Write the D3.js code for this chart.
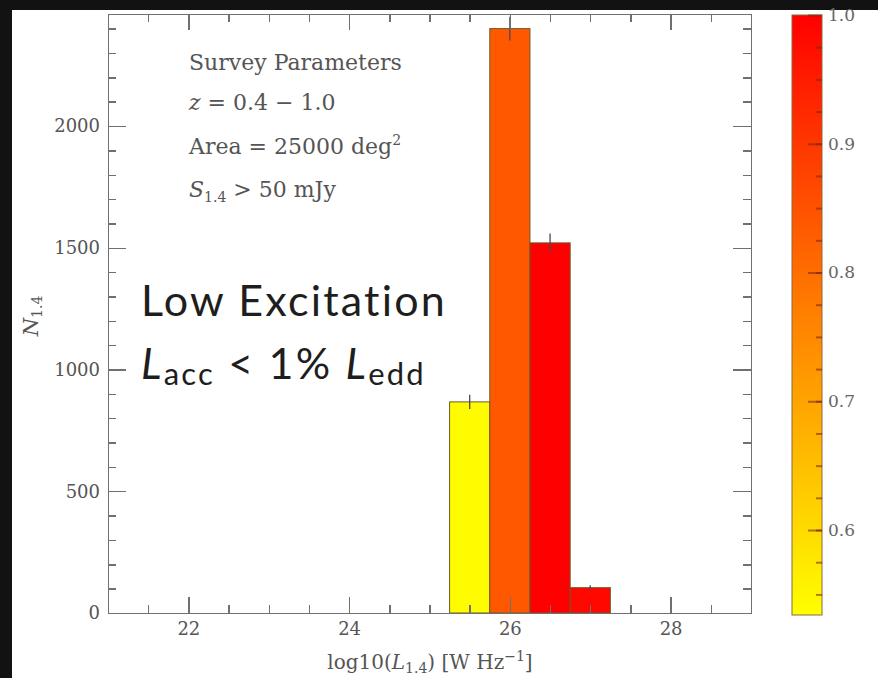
<!DOCTYPE html>
<html lang="en">
<head>
	<meta charset="utf-8">
	<title>Low excitation radio luminosity histogram</title>
	<script src="https://cdn.jsdelivr.net/npm/d3@7"></script>
	<style>
		body { margin: 0; background: #111; }
		.axis path, .axis line { stroke: #707070; stroke-width: 1.4; shape-rendering: crispEdges; }
		.axis text { font-family: "DejaVu Serif", serif; font-size: 18px; fill: #555; }
		.cbar line { stroke: #7a2a10; stroke-opacity: 0.6; stroke-width: 2; }
		.cbar path { stroke: none; }
		.cbar text { font-family: "DejaVu Serif", serif; font-size: 17px; fill: #666; }
		.note { font-family: "DejaVu Serif", serif; font-size: 21px; fill: #555; }
		.big { font-family: Lato, "Open Sans", sans-serif; font-size: 43px; letter-spacing: 2.2px; fill: #1e1e1e; }
	</style>
</head>
<body>
	<script>
		// canvas
		var w = 878, h = 678;

		// histogram data (bin edges in log10 L, counts, poisson errors, colour value)
		var binStart = [25.25, 25.75, 26.25, 26.75];
		var binWidth = 0.5;
		var counts = [867, 2400, 1520, 104];
		var errors = [29, 49, 39, 10];
		var fracValue = [0.54, 0.84, 1.0, 0.985];

		// tick values
		var xMajor = [22, 24, 26, 28];
		var yMajor = [0, 500, 1000, 1500, 2000];
		var cbMajor = [0.6, 0.7, 0.8, 0.9, 1.0];

		// plot box
		var padL = 108, padR = 751, padT = 14, padB = 613;
		var cbLeft = 792, cbRight = 822, cbTop = 15, cbBottom = 615;

		var xScale = d3.scaleLinear().domain([21, 29]).range([padL, padR]);
		var yScale = d3.scaleLinear().domain([0, 2460]).range([padB, padT]);
		var cScale = d3.scaleLinear().domain([0.534, 1.0]).range(["#ffff00", "#ff0000"]);
		var cbScale = d3.scaleLinear().domain([0.534, 1.0]).range([cbBottom, cbTop]);

		var svg = d3.select("body").append("svg")
			.attr("width", w)
			.attr("height", h)
			.style("display", "block");

		// dark frame, white page
		svg.append("rect").attr("width", w).attr("height", h).attr("fill", "#121212");
		svg.append("rect").attr("x", 12).attr("y", 10).attr("width", w - 12).attr("height", h - 10).attr("fill", "#fff");

		// bars
		svg.selectAll("rect.bar")
			.data(counts)
			.enter()
			.append("rect")
			.attr("class", "bar")
			.attr("x", function (d, i) { return xScale(binStart[i]); })
			.attr("width", function (d, i) { return xScale(binStart[i] + binWidth) - xScale(binStart[i]); })
			.attr("y", function (d) { return yScale(d); })
			.attr("height", function (d) { return yScale(0) - yScale(d); })
			.attr("fill", function (d, i) { return cScale(fracValue[i]); })
			.attr("stroke", "#6b5a2a")
			.attr("stroke-width", 1);

		// error bars
		svg.selectAll("line.err")
			.data(counts)
			.enter()
			.append("line")
			.attr("class", "err")
			.attr("x1", function (d, i) { return xScale(binStart[i] + binWidth / 2); })
			.attr("x2", function (d, i) { return xScale(binStart[i] + binWidth / 2); })
			.attr("y1", function (d, i) { return yScale(d - errors[i]); })
			.attr("y2", function (d, i) { return yScale(d + errors[i]); })
			.attr("stroke", "#4a4a55")
			.attr("stroke-width", 1.3);

		// minor ticks
		var xMinor = d3.range(21, 29.01, 0.5);
		var yMinor = d3.range(0, 2460, 100);

		svg.append("g").attr("class", "axis").attr("transform", "translate(0," + padB + ")")
			.call(d3.axisBottom(xScale).tickValues(xMinor).tickSize(-8).tickFormat(""));
		svg.append("g").attr("class", "axis").attr("transform", "translate(0," + padT + ")")
			.call(d3.axisTop(xScale).tickValues(xMinor).tickSize(-8).tickFormat(""));
		svg.append("g").attr("class", "axis").attr("transform", "translate(" + padL + ",0)")
			.call(d3.axisLeft(yScale).tickValues(yMinor).tickSize(-8).tickFormat(""));
		svg.append("g").attr("class", "axis").attr("transform", "translate(" + padR + ",0)")
			.call(d3.axisRight(yScale).tickValues(yMinor).tickSize(-8).tickFormat(""));

		// major ticks + labels
		svg.append("g").attr("class", "axis").attr("transform", "translate(0," + padB + ")")
			.call(d3.axisBottom(xScale).tickValues(xMajor).tickSizeInner(-16).tickSizeOuter(0).tickPadding(9));
		svg.append("g").attr("class", "axis").attr("transform", "translate(0," + padT + ")")
			.call(d3.axisTop(xScale).tickValues(xMajor).tickSizeInner(-16).tickSizeOuter(0).tickFormat(""));
		svg.append("g").attr("class", "axis").attr("transform", "translate(" + padL + ",0)")
			.call(d3.axisLeft(yScale).tickValues(yMajor).tickSizeInner(-18).tickSizeOuter(0).tickPadding(8).tickFormat(d3.format("d")));
		svg.append("g").attr("class", "axis").attr("transform", "translate(" + padR + ",0)")
			.call(d3.axisRight(yScale).tickValues(yMajor).tickSizeInner(-18).tickSizeOuter(0).tickFormat(""));

		// axis titles
		var xl = svg.append("text")
			.attr("class", "note")
			.attr("x", 430)
			.attr("y", 669)
			.attr("text-anchor", "middle")
			.style("font-size", "20px");
		xl.append("tspan").text("log10(");
		xl.append("tspan").style("font-style", "italic").text("L");
		xl.append("tspan").attr("dy", 4).style("font-size", "14px").text("1.4");
		xl.append("tspan").attr("dy", -4).text(") [W Hz");
		xl.append("tspan").attr("dy", -8).style("font-size", "14px").text("−1");
		xl.append("tspan").attr("dy", 8).text("]");

		var yl = svg.append("text")
			.attr("class", "note")
			.attr("transform", "translate(38,316) rotate(-90)")
			.attr("text-anchor", "middle")
			.style("font-size", "21px");
		yl.append("tspan").style("font-style", "italic").text("N");
		yl.append("tspan").attr("dy", 4).style("font-size", "14px").text("1.4");

		// survey parameters block
		var note = svg.append("g").attr("class", "note").style("font-size", "22px");
		note.append("text").attr("x", 189).attr("y", 70).text("Survey Parameters");
		var z = note.append("text").attr("x", 189).attr("y", 110);
		z.append("tspan").style("font-style", "italic").text("z");
		z.append("tspan").text(" = 0.4 − 1.0");
		var area = note.append("text").attr("x", 189).attr("y", 154);
		area.append("tspan").text("Area = 25000 deg");
		area.append("tspan").attr("dy", -9).style("font-size", "14px").text("2");
		var s = note.append("text").attr("x", 189).attr("y", 197);
		s.append("tspan").style("font-style", "italic").text("S");
		s.append("tspan").attr("dy", 5).style("font-size", "14px").text("1.4");
		s.append("tspan").attr("dy", -5).text(" > 50 mJy");

		// big overlay label
		svg.append("text").attr("class", "big").attr("x", 141).attr("y", 316).text("Low Excitation");
		var lacc = svg.append("text").attr("class", "big").attr("x", 141).attr("y", 379);
		lacc.append("tspan").style("font-style", "italic").text("L");
		lacc.append("tspan").attr("dy", 6).style("font-size", "31px").text("acc");
		lacc.append("tspan").attr("dy", -6).text(" < 1% ");
		lacc.append("tspan").style("font-style", "italic").text("L");
		lacc.append("tspan").attr("dy", 6).style("font-size", "31px").text("edd");

		// colour bar
		var grad = svg.append("defs").append("linearGradient")
			.attr("id", "cb")
			.attr("x1", 0).attr("y1", 1).attr("x2", 0).attr("y2", 0);
		grad.selectAll("stop")
			.data(d3.range(0, 1.001, 0.1))
			.enter()
			.append("stop")
			.attr("offset", function (d) { return d; })
			.attr("stop-color", function (d) { return cScale(0.534 + d * (1.0 - 0.534)); });

		svg.append("rect")
			.attr("x", cbLeft).attr("y", cbTop)
			.attr("width", cbRight - cbLeft).attr("height", cbBottom - cbTop)
			.attr("fill", "url(#cb)")
			.attr("stroke", "#8a6a3a")
			.attr("stroke-width", 1);

		svg.append("g").attr("class", "cbar").attr("transform", "translate(" + cbRight + ",0)")
			.call(d3.axisRight(cbScale).tickValues(d3.range(0.55, 1.0, 0.025)).tickSize(-6).tickFormat(""));
		svg.append("g").attr("class", "cbar").attr("transform", "translate(" + cbRight + ",0)")
			.call(d3.axisRight(cbScale).tickValues(cbMajor).tickSizeInner(-14).tickSizeOuter(0).tickPadding(6).tickFormat(d3.format(".1f")));
	</script>
</body>
</html>
